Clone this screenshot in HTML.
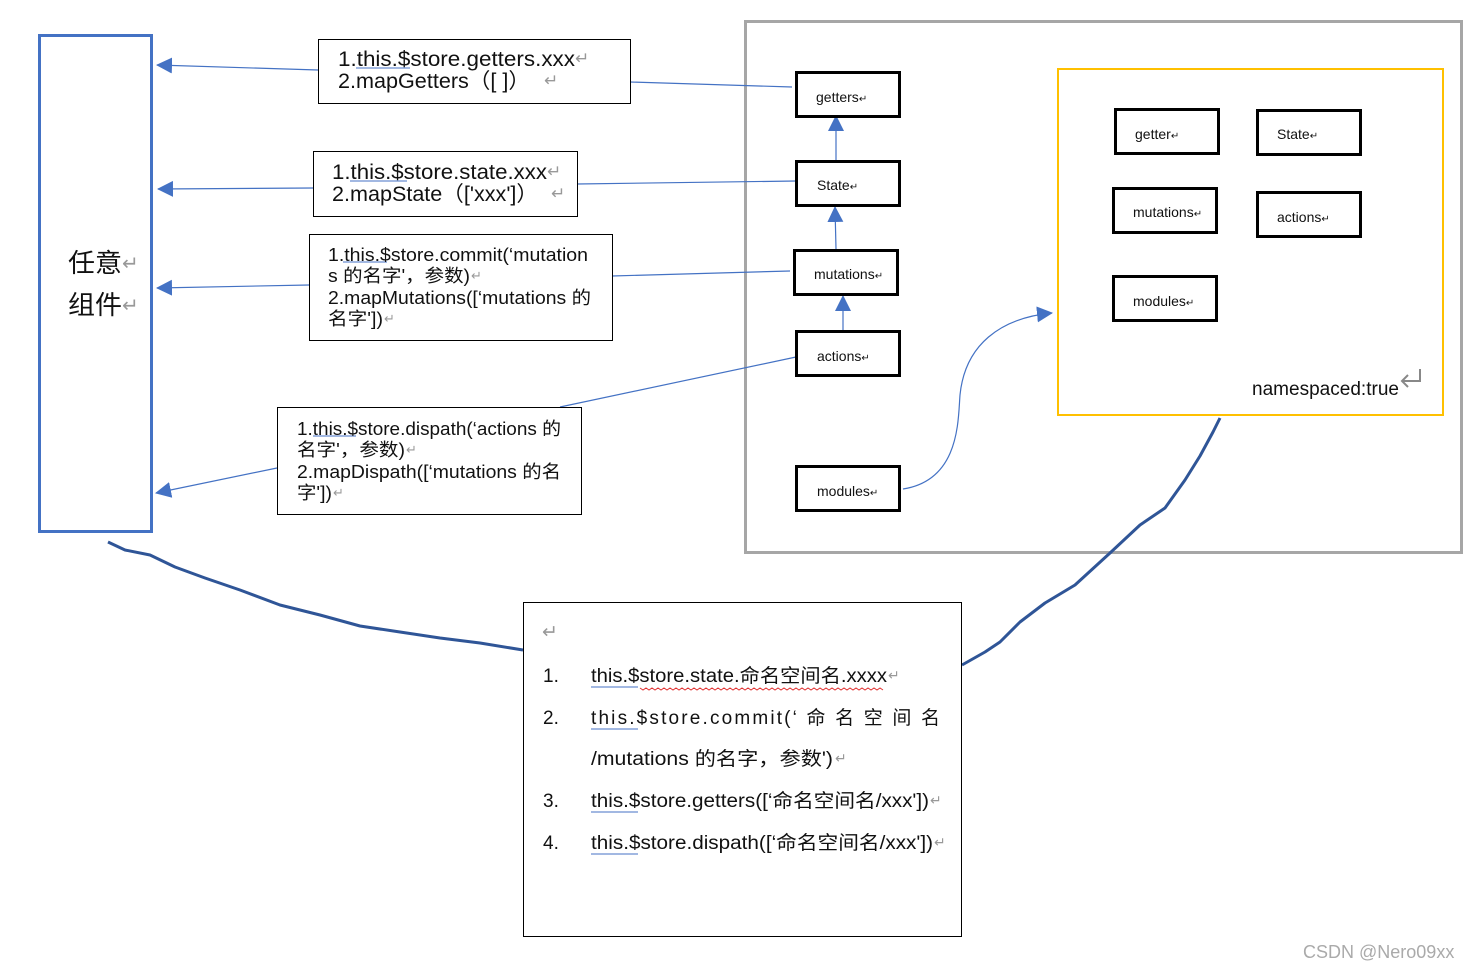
<!DOCTYPE html>
<html><head><meta charset="utf-8"><style>
html,body{margin:0;padding:0;background:#fff;width:1478px;height:969px;overflow:hidden}
svg text{font-family:"Liberation Sans","Noto Sans CJK SC",sans-serif;fill:#111}
svg text.r{fill:#999}
</style></head><body>
<svg width="1478" height="969" viewBox="0 0 1478 969" xmlns="http://www.w3.org/2000/svg">
<defs>
<marker id="b" markerWidth="16" markerHeight="16" refX="15" refY="8" orient="auto" markerUnits="userSpaceOnUse"><path d="M0,0 L16,8 L0,16 z" fill="#4472c4"/></marker>
</defs>
<rect x="39.5" y="35.5" width="112" height="496" fill="none" stroke="#4472c4" stroke-width="3"/>
<text x="68" y="272" font-size="26" textLength="54" lengthAdjust="spacingAndGlyphs">任意</text><text class="r" x="122" y="270" font-size="20">↵</text>
<text x="68" y="314" font-size="26" textLength="54" lengthAdjust="spacingAndGlyphs">组件</text><text class="r" x="122" y="312" font-size="20">↵</text>
<rect x="745.5" y="21.5" width="716" height="531" fill="none" stroke="#a6a6a6" stroke-width="3"/>
<rect x="1058" y="69" width="385" height="346" fill="none" stroke="#ffc000" stroke-width="2"/>
<text x="1252" y="395" font-size="19" textLength="147" lengthAdjust="spacingAndGlyphs">namespaced:true</text>
<path d="M1420 369 v12 h-18 M1408 375 l-6 6 l6 6" fill="none" stroke="#888" stroke-width="2"/>
<g stroke="#4472c4" stroke-width="1.2" fill="none">
<line x1="318" y1="70" x2="157" y2="65" marker-end="url(#b)"/>
<line x1="630" y1="82" x2="792" y2="87"/>
<line x1="313" y1="188" x2="158" y2="189" marker-end="url(#b)"/>
<line x1="577" y1="184" x2="796" y2="181"/>
<line x1="309" y1="285" x2="157" y2="288" marker-end="url(#b)"/>
<line x1="612" y1="276" x2="790" y2="271"/>
<line x1="277" y1="468" x2="156" y2="493" marker-end="url(#b)"/>
<line x1="560" y1="407" x2="796" y2="357"/>
<line x1="836" y1="160" x2="836" y2="116" marker-end="url(#b)"/>
<line x1="836" y1="249" x2="835" y2="207" marker-end="url(#b)"/>
<line x1="843" y1="330" x2="843" y2="296" marker-end="url(#b)"/>
<path d="M903 489 C960 480 958 420 960 395 C965 345 1000 318 1052 313" marker-end="url(#b)"/>
</g>
<g stroke="#2f5597" stroke-width="3" fill="none" stroke-linejoin="round">
<path d="M108 542 L125 550 L150 555 L175 567 L205 578 L240 590 L280 605 L320 615 L360 626 L400 632 L440 638 L480 643 L523 650"/>
<path d="M962 665 L985 652 L1000 642 L1020 622 L1045 603 L1075 585 L1110 553 L1140 525 L1165 508 L1185 480 L1200 456 L1213 432 L1220 418"/>
</g>
<g fill="#fff" stroke="#000" stroke-width="3">
<rect x="796.5" y="72.5" width="103" height="44"/>
<rect x="796.5" y="161.5" width="103" height="44"/>
<rect x="794.5" y="250.5" width="103" height="44"/>
<rect x="796.5" y="331.5" width="103" height="44"/>
<rect x="796.5" y="466.5" width="103" height="44"/>
<rect x="1115.5" y="109.5" width="103" height="44"/>
<rect x="1257.5" y="110.5" width="103" height="44"/>
<rect x="1113.5" y="188.5" width="103" height="44"/>
<rect x="1257.5" y="192.5" width="103" height="44"/>
<rect x="1113.5" y="276.5" width="103" height="44"/>
</g>
<g font-size="14">
<text x="816" y="102">getters<tspan class="r" font-size="10">↵</tspan></text>
<text x="817" y="190">State<tspan class="r" font-size="10">↵</tspan></text>
<text x="814" y="279">mutations<tspan class="r" font-size="10">↵</tspan></text>
<text x="817" y="361">actions<tspan class="r" font-size="10">↵</tspan></text>
<text x="817" y="496">modules<tspan class="r" font-size="10">↵</tspan></text>
<text x="1135" y="139">getter<tspan class="r" font-size="10">↵</tspan></text>
<text x="1277" y="139">State<tspan class="r" font-size="10">↵</tspan></text>
<text x="1133" y="217">mutations<tspan class="r" font-size="10">↵</tspan></text>
<text x="1277" y="222">actions<tspan class="r" font-size="10">↵</tspan></text>
<text x="1133" y="306">modules<tspan class="r" font-size="10">↵</tspan></text>
</g>
<g fill="#fff" stroke="#000" stroke-width="1">
<rect x="318.5" y="39.5" width="312" height="64"/>
<rect x="313.5" y="151.5" width="264" height="65"/>
<rect x="309.5" y="234.5" width="303" height="106"/>
<rect x="277.5" y="407.5" width="304" height="107"/>
<rect x="523.5" y="602.5" width="438" height="334"/>
</g>
<g font-size="21">
<text x="338" y="66" textLength="237" lengthAdjust="spacingAndGlyphs">1.this.$store.getters.xxx</text>
<text x="338" y="88" textLength="192" lengthAdjust="spacingAndGlyphs">2.mapGetters（[ ]）</text>
<text x="332" y="179" textLength="215" lengthAdjust="spacingAndGlyphs">1.this.$store.state.xxx</text>
<text x="332" y="201" textLength="206" lengthAdjust="spacingAndGlyphs">2.mapState（['xxx']）</text>
</g>
<g class="r" font-size="17">
<text class="r" x="575" y="64">↵</text><text class="r" x="544" y="86">↵</text>
<text class="r" x="547" y="177">↵</text><text class="r" x="551" y="199">↵</text>
</g>
<g stroke="#4472c4" stroke-width="1"><line x1="356" y1="68" x2="410" y2="68"/><line x1="350" y1="181" x2="407" y2="181"/><line x1="343" y1="262" x2="387" y2="262"/><line x1="313" y1="436" x2="356" y2="436"/></g>
<g font-size="18">
<text x="328" y="261" textLength="260" lengthAdjust="spacingAndGlyphs">1.this.$store.commit(‘mutation</text>
<text x="328" y="282" textLength="142" lengthAdjust="spacingAndGlyphs">s 的名字'，参数)</text>
<text x="328" y="304" textLength="263" lengthAdjust="spacingAndGlyphs">2.mapMutations([‘mutations 的</text>
<text x="328" y="325" textLength="55" lengthAdjust="spacingAndGlyphs">名字'])</text>
<text x="297" y="435" textLength="264" lengthAdjust="spacingAndGlyphs">1.this.$store.dispath(‘actions 的</text>
<text x="297" y="456" textLength="108" lengthAdjust="spacingAndGlyphs">名字'，参数)</text>
<text x="297" y="478" textLength="264" lengthAdjust="spacingAndGlyphs">2.mapDispath([‘mutations 的名</text>
<text x="297" y="499" textLength="35" lengthAdjust="spacingAndGlyphs">字'])</text>
</g>
<g font-size="13">
<text class="r" x="471" y="280">↵</text><text class="r" x="384" y="323">↵</text>
<text class="r" x="406" y="454">↵</text><text class="r" x="333" y="497">↵</text>
</g>
<g font-size="19">
<text class="r" x="542" y="638">↵</text>
<text x="543" y="682">1.</text><text x="591" y="682" textLength="296" lengthAdjust="spacingAndGlyphs">this.$store.state.命名空间名.xxxx</text>
<text x="543" y="724">2.</text><text x="591" y="724" textLength="349" lengthAdjust="spacing">this.$store.commit(‘ 命 名 空 间 名</text>
<text x="591" y="765" textLength="242" lengthAdjust="spacingAndGlyphs">/mutations 的名字，参数')</text>
<text x="543" y="807">3.</text><text x="591" y="807" textLength="338" lengthAdjust="spacingAndGlyphs">this.$store.getters([‘命名空间名/xxx'])</text>
<text x="543" y="849">4.</text><text x="591" y="849" textLength="342" lengthAdjust="spacingAndGlyphs">this.$store.dispath([‘命名空间名/xxx'])</text>
</g>
<g font-size="14">
<text class="r" x="888" y="680">↵</text><text class="r" x="835" y="763">↵</text>
<text class="r" x="930" y="805">↵</text><text class="r" x="934" y="847">↵</text>
</g>
<g stroke="#4472c4" stroke-width="1"><line x1="591" y1="687" x2="638" y2="687"/><line x1="591" y1="729" x2="638" y2="729"/><line x1="591" y1="812" x2="638" y2="812"/><line x1="591" y1="854" x2="638" y2="854"/></g>
<g stroke="#e03030" stroke-width="1" fill="none">
<path d="M640 688 l3 2 l3 -2 l3 2 l3 -2 l3 2 l3 -2 l3 2 l3 -2 l3 2 l3 -2 l3 2 l3 -2 l3 2 l3 -2 l3 2 l3 -2 l3 2 l3 -2 l3 2 l3 -2 l3 2 l3 -2 l3 2 l3 -2 l3 2 l3 -2 l3 2 l3 -2 l3 2 l3 -2 l3 2 l3 -2 l3 2 l3 -2 l3 2 l3 -2 l3 2 l3 -2 l3 2 l3 -2 l3 2 l3 -2 l3 2 l3 -2 l3 2 l3 -2 l3 2 l3 -2 l3 2 l3 -2 l3 2 l3 -2 l3 2 l3 -2 l3 2 l3 -2 l3 2 l3 -2 l3 2 l3 -2 l3 2 l3 -2 l3 2 l3 -2 l3 2 l3 -2 l3 2 l3 -2 l3 2 l3 -2 l3 2 l3 -2 l3 2 l3 -2 l3 2 l3 -2 l3 2 l3 -2 l3 2 l3 -2 l3 2"/>
</g>
<text x="1303" y="958" font-size="18" style="fill:#aaa">CSDN @Nero09xx</text>
</svg>
</body></html>
